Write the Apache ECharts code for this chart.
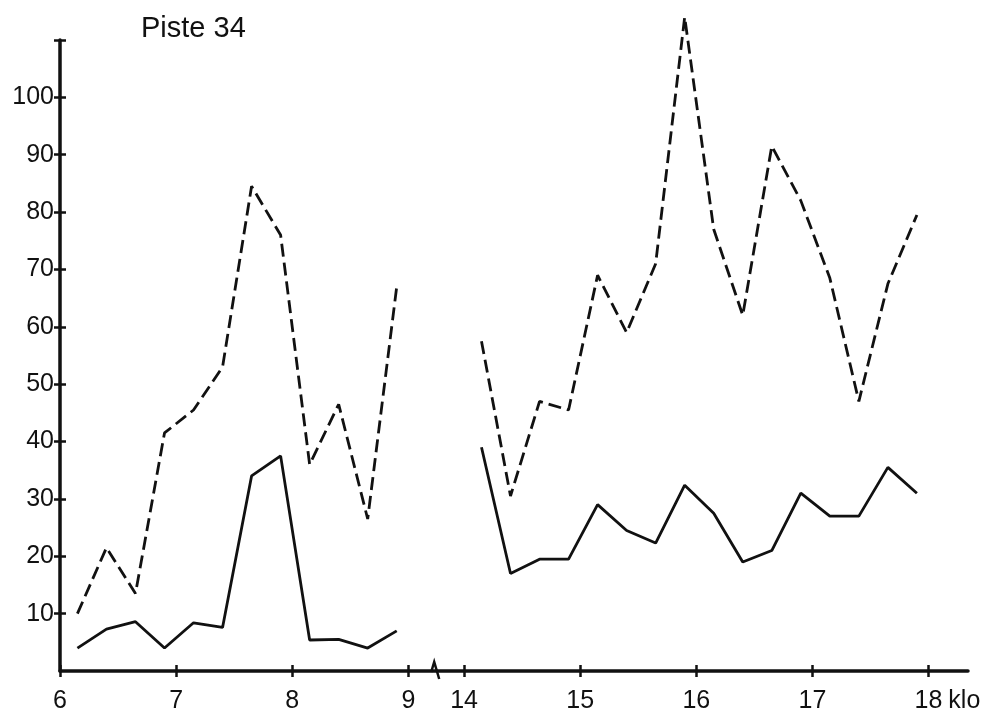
<!DOCTYPE html>
<html>
<head>
<meta charset="utf-8">
<script src="https://cdn.jsdelivr.net/npm/echarts@6/dist/echarts.min.js"></script>
<style>html,body{margin:0;padding:0;background:#fff;}#c{width:993px;height:719px;}</style>
</head>
<body>
<div id="c"></div>
<script>
const titleText = 'Piste 34';
const xUnit = 'klo';
const xTicks = [6, 7, 8, 9, 14, 15, 16, 17, 18];
const yTicks = [10, 20, 30, 40, 50, 60, 70, 80, 90, 100];
const yCapTicks = [10, 20, 30, 40, 50, 60, 70, 80, 90, 100, 110];

const morningTimes = [6.15, 6.4, 6.65, 6.9, 7.15, 7.4, 7.65, 7.9, 8.15, 8.4, 8.65, 8.9];
const morningDashed = [10, 21.5, 13.5, 41.5, 45.5, 53, 84.5, 76, 36, 46.5, 26.5, 67];
const morningSolid = [4, 7.3, 8.6, 4, 8.4, 7.6, 34, 37.5, 5.4, 5.5, 4, 7];

const afternoonTimes = [14.15, 14.4, 14.65, 14.9, 15.15, 15.4, 15.65, 15.9, 16.15, 16.4, 16.65, 16.9, 17.15, 17.4, 17.65, 17.9];
const afternoonDashed = [57.5, 30.5, 47, 45.5, 69, 59, 71, 114, 77, 62, 91.5, 82, 68.5, 47, 67.5, 79.5];
const afternoonSolid = [39, 17, 19.5, 19.5, 29, 24.5, 22.3, 32.4, 27.5, 19, 21, 31, 27, 27, 35.5, 31];

const pairs = (xs, ys) => xs.map((x, i) => [x, ys[i]]);
const FONT = 'Liberation Sans';
const INK = '#111';
const breaks = [{ start: 9.0, end: 14.0, gap: 0.48 }];

function xAxisDef(inside, showLabels) {
  return {
    type: 'value', position: 'bottom', min: 6, max: 18.34,
    breaks: breaks,
    breakArea: { show: false },
    axisLine: { show: false },
    axisTick: { show: true, inside: inside, length: 6, customValues: xTicks, lineStyle: { color: INK, width: 2.5 } },
    axisLabel: { show: showLabels, customValues: xTicks, margin: 18, color: INK, fontSize: 25, fontFamily: FONT },
    splitLine: { show: false },
    name: showLabels ? xUnit : '',
    nameLocation: 'end', nameGap: -20,
    nameTextStyle: { color: INK, fontSize: 25, fontFamily: FONT, align: 'left', verticalAlign: 'top', padding: [18, 0, 0, 0] }
  };
}
function yAxisDef(inside, showLabels) {
  return {
    type: 'value', position: 'left', min: 0, max: 110, interval: 10,
    axisLine: { show: showLabels, onZero: false, lineStyle: { color: INK, width: 3.5 } },
    axisTick: { show: true, inside: inside, length: 6, customValues: yCapTicks, lineStyle: { color: INK, width: 2.5 } },
    axisLabel: { show: showLabels, customValues: yTicks, margin: 6, color: INK, fontSize: 25, fontFamily: FONT },
    splitLine: { show: false }
  };
}
// plain axis (no break) that only draws the continuous baseline
const baseAxis = {
  type: 'value', position: 'bottom', min: 6, max: 18.34,
  axisLine: { show: true, onZero: false, lineStyle: { color: INK, width: 3.5 } },
  axisTick: { show: false }, axisLabel: { show: false }, splitLine: { show: false }
};
function lineSeries(data, dashed) {
  return {
    type: 'line', data: data, symbol: 'none', clip: false, animation: false,
    lineStyle: { color: INK, width: 2.8, type: dashed ? [13, 6] : 'solid' }
  };
}

const chart = echarts.init(document.getElementById('c'), null, { renderer: 'canvas' });
chart.setOption({
  backgroundColor: '#fff',
  animation: false,
  title: { text: titleText, left: 136, top: 9, textStyle: { color: INK, fontSize: 29, fontWeight: 'normal', fontFamily: FONT } },
  grid: { left: 60, right: 25, top: 40, bottom: 48 },
  xAxis: [xAxisDef(false, true), xAxisDef(true, false), baseAxis],
  yAxis: [yAxisDef(false, true), yAxisDef(true, false)],
  series: [
    lineSeries(pairs(morningTimes, morningDashed), true),
    lineSeries(pairs(morningTimes, morningSolid), false),
    lineSeries(pairs(afternoonTimes, afternoonDashed), true),
    lineSeries(pairs(afternoonTimes, afternoonSolid), false)
  ]
});

// small break glyph on the baseline, placed midway between the axis values 9 and 14
const p9 = chart.convertToPixel({ xAxisIndex: 0, yAxisIndex: 0 }, [9, 0]);
const p14 = chart.convertToPixel({ xAxisIndex: 0, yAxisIndex: 0 }, [14, 0]);
const mx = (p9[0] + p14[0]) / 2, my = p9[1];
chart.setOption({
  graphic: [{
    type: 'polyline', z: 100,
    shape: { points: [[mx - 5, my + 1], [mx - 2, my - 9], [mx + 3, my + 8]] },
    style: { stroke: INK, lineWidth: 2.5, fill: null }
  }]
});
</script>
</body>
</html>
